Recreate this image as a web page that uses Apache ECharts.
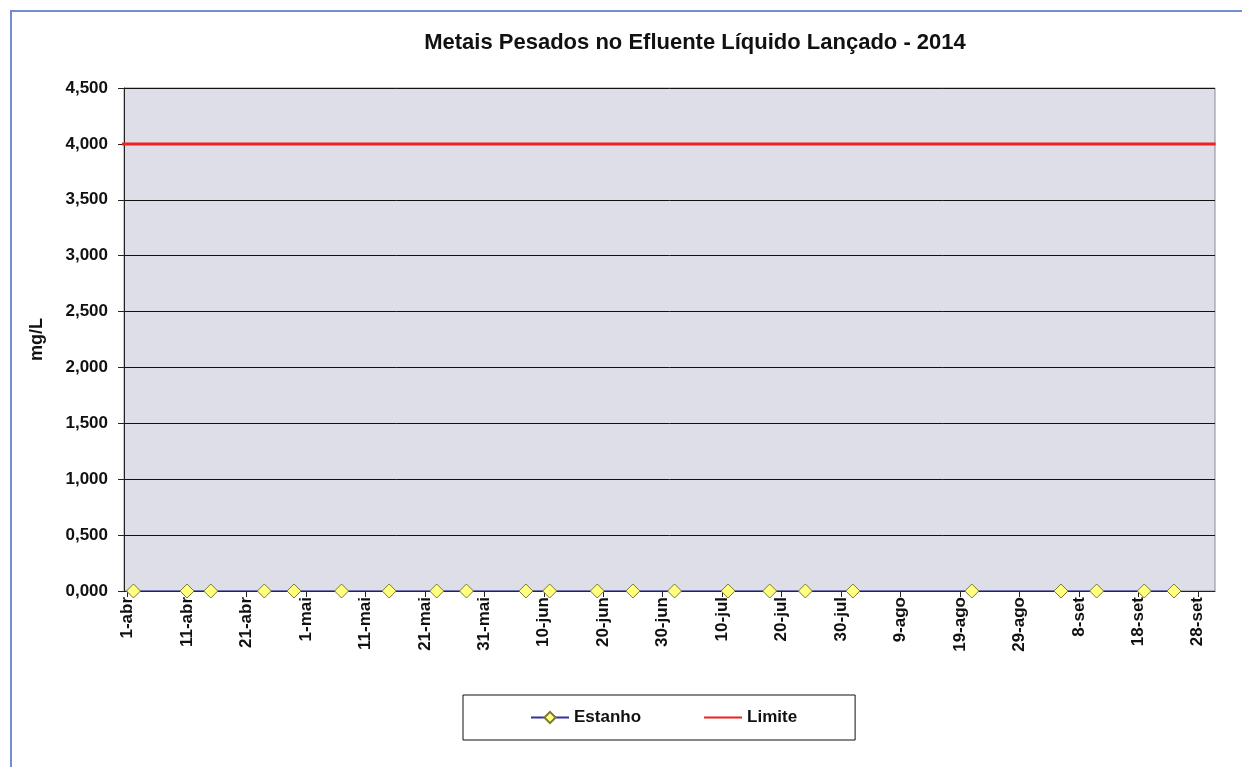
<!DOCTYPE html>
<html>
<head>
<meta charset="utf-8">
<title>Metais Pesados no Efluente Líquido Lançado - 2014</title>
<script src="https://cdn.jsdelivr.net/npm/echarts@6/dist/echarts.min.js"></script>
<style>
  html, body { margin: 0; padding: 0; background: #fff; }
  #wrap { position: relative; width: 1242px; height: 767px; overflow: hidden; }
  #chart { width: 1242px; height: 767px; }
  /* moldura azul da página digitalizada */
  #frame {
    position: absolute; left: 10px; top: 10px; width: 1300px; height: 800px;
    border-left: 2px solid #6f8fd2; border-top: 2px solid #6f8fd2;
    pointer-events: none;
  }
</style>
</head>
<body>
<div id="wrap">
  <div id="chart"></div>
  <div id="frame"></div>
</div>
<script>
// datas das amostras de Estanho (mg/L)
const estanhoDates = [
  '2014-04-02', '2014-04-11', '2014-04-15', '2014-04-24', '2014-04-29',
  '2014-05-07', '2014-05-15', '2014-05-23', '2014-05-28',
  '2014-06-07', '2014-06-11', '2014-06-19', '2014-06-25',
  '2014-07-02', '2014-07-11', '2014-07-18', '2014-07-24', '2014-08-01',
  '2014-08-21', '2014-09-05', '2014-09-11', '2014-09-19', '2014-09-24'
];
const estanhoValues = [
  0, 0, 0, 0, 0,
  0, 0, 0, 0,
  0, 0, 0, 0,
  0, 0, 0, 0, 0,
  0, 0, 0, 0, 0
];
// limite legal (mg/L) válido em todo o período
const limiteDates = ['2014-03-31', '2014-10-01'];
const limiteValues = [4, 4];
// marcas do eixo x (de 10 em 10 dias)
const tickDates = [
  '2014-04-01', '2014-04-11', '2014-04-21', '2014-05-01', '2014-05-11', '2014-05-21',
  '2014-05-31', '2014-06-10', '2014-06-20', '2014-06-30', '2014-07-10', '2014-07-20',
  '2014-07-30', '2014-08-09', '2014-08-19', '2014-08-29', '2014-09-08', '2014-09-18',
  '2014-09-28'
];
const monthNames = ['jan', 'fev', 'mar', 'abr', 'mai', 'jun', 'jul', 'ago', 'set', 'out', 'nov', 'dez'];

// eixo x em dias contados a partir de 1-abr
const DAY = 86400000;
const ORIGIN = Date.parse('2014-04-01T00:00:00Z');
const toDay = d => (Date.parse(d + 'T00:00:00Z') - ORIGIN) / DAY;
const tickValues = tickDates.map(toDay);
const estanhoData = estanhoDates.map((d, i) => [toDay(d), estanhoValues[i]]);
const limiteData = limiteDates.map((d, i) => [toDay(d), limiteValues[i]]);

const FONT = '"Liberation Sans", Arial, sans-serif';

const chart = echarts.init(document.getElementById('chart'));
chart.setOption({
  animation: false,
  backgroundColor: 'transparent',
  title: {
    text: 'Metais Pesados no Efluente Líquido Lançado - 2014',
    left: 690,
    textAlign: 'center',
    top: 27,
    textStyle: { fontFamily: FONT, fontSize: 22, fontWeight: 'bold', color: '#111' },
  },
  // área do gráfico
  grid: {
    left: 124,
    right: 27,
    top: 88,
    bottom: 176,
    show: true,
    backgroundColor: '#dedee8',
    borderColor: '#8a8a94',
    borderWidth: 1,
    containLabel: false,
  },
  legend: {
    left: 463,
    top: 695,
    padding: [14, 58, 14, 67],
    borderColor: '#111',
    borderWidth: 1,
    itemWidth: 38,
    itemHeight: 14,
    itemGap: 62,
    textStyle: { fontFamily: FONT, fontSize: 17, fontWeight: 'bold', color: '#111' },
    data: ['Estanho', { name: 'Limite', itemStyle: { opacity: 0 } }],
  },
  xAxis: {
    type: 'value',
    min: -0.6,
    max: 182.9,
    axisLine: { show: true, onZero: false, lineStyle: { color: '#222', width: 1 } },
    axisTick: { show: true, length: 6, lineStyle: { color: '#222' }, customValues: tickValues },
    splitLine: { show: false },
    axisLabel: {
      customValues: tickValues,
      rotate: 90,
      margin: 6,
      fontFamily: FONT,
      fontSize: 17,
      fontWeight: 'bold',
      color: '#111',
      formatter: function (v) {
        const d = new Date(ORIGIN + Math.round(v) * DAY);
        return d.getUTCDate() + '-' + monthNames[d.getUTCMonth()];
      },
    },
  },
  yAxis: {
    type: 'value',
    min: 0,
    max: 4.5,
    interval: 0.5,
    name: 'mg/L',
    nameLocation: 'middle',
    nameGap: 78,
    nameRotate: 90,
    nameTextStyle: { fontFamily: FONT, fontSize: 18, fontWeight: 'bold', color: '#111' },
    axisLine: { show: true, onZero: false, lineStyle: { color: '#222', width: 1 } },
    axisTick: { show: true, length: 6, lineStyle: { color: '#222' } },
    splitLine: { show: true, lineStyle: { color: '#111', width: 1 } },
    axisLabel: {
      margin: 16,
      fontFamily: FONT,
      fontSize: 17,
      fontWeight: 'bold',
      color: '#111',
      formatter: v => v.toFixed(3).replace('.', ','),
    },
  },
  series: [
    {
      name: 'Estanho',
      type: 'line',
      data: estanhoData,
      symbol: 'diamond',
      symbolSize: 14,
      showAllSymbol: true,
      lineStyle: { color: '#333399', width: 1 },
      itemStyle: { color: '#ffff80', borderColor: '#7a7a30', borderWidth: 1 },
      z: 5,
    },
    {
      name: 'Limite',
      type: 'line',
      data: limiteData,
      symbol: 'none',
      showSymbol: false,
      clip: true,
      lineStyle: { color: '#ee2020', width: 3 },
      itemStyle: { color: '#ee2020' },
    },
  ],
});
</script>
</body>
</html>
